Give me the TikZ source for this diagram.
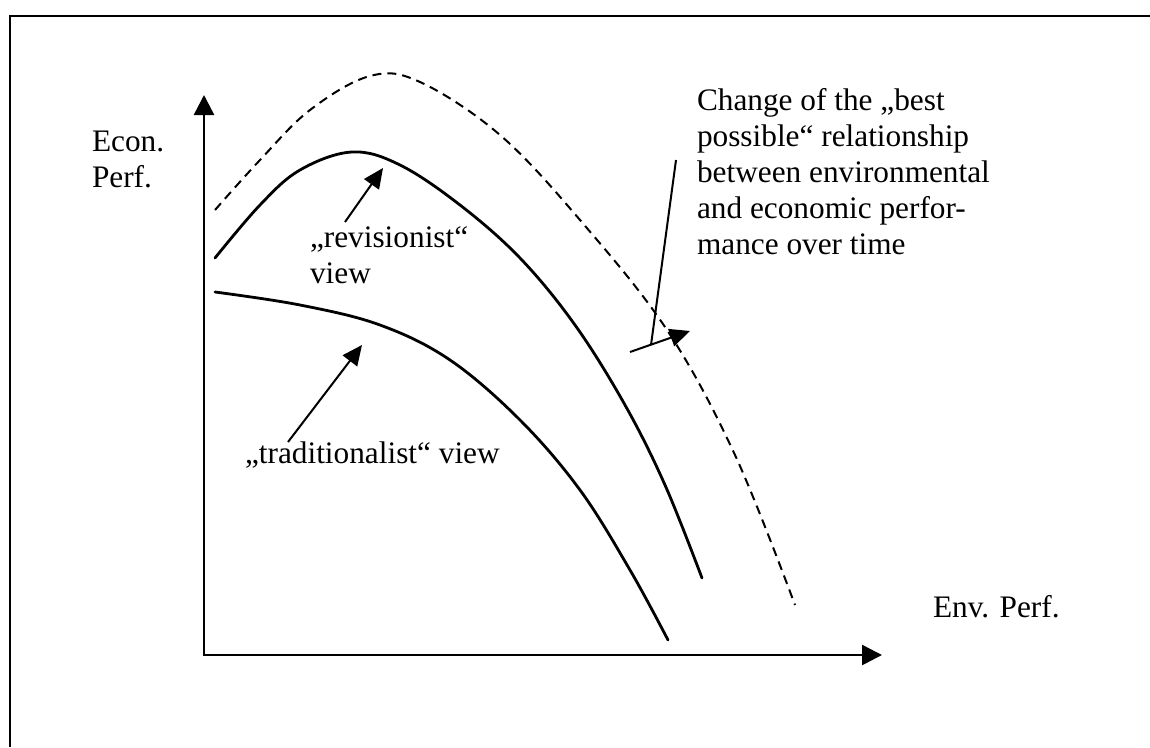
\documentclass[tikz,border=0pt]{standalone}
\usepackage{fontspec}
\setmainfont{Liberation Serif}
\usetikzlibrary{arrows.meta}
\begin{document}
\begin{tikzpicture}[x=1pt,y=-1pt,
  every node/.style={font=\fontsize{31.3}{36}\selectfont, inner sep=0pt, outer sep=0pt},
  frameline/.style={line width=2pt},
  axis/.style={line width=2.5pt, {Triangle[length=20pt,width=20pt]}-{Triangle[length=20pt,width=20pt]}},
  curve/.style={line width=2.8pt, line cap=round},
  dashcurve/.style={line width=2pt, dash pattern=on 9pt off 6pt},
  pointer/.style={line width=2pt, -{Triangle[length=20pt,width=18pt]}},
  thinline/.style={line width=2pt}]
\useasboundingbox (0,0) rectangle (1150,747);
\draw[frameline] (10,747) -- (10,16) -- (1150,16);

% axes
\coordinate (O) at (204,655);
\coordinate (Ytip) at (204,95);
\coordinate (Xtip) at (882,655);
\draw[axis] (Ytip) -- (O) -- (Xtip);

% curves
\draw[dashcurve] plot[smooth, tension=0.6] coordinates {(215,210) (260,160) (310,110) (370,76) (420,82) (500,135) (580,220) (667,330) (735,455) (795,605)};
\draw[curve] plot[smooth, tension=0.6] coordinates {(215,258) (260,205) (300,170) (352,152) (400,165) (460,205) (520,258) (575,325) (625,405) (665,485) (702,578)};
\draw[curve] plot[smooth, tension=0.6] coordinates {(215,292) (300,305) (380,325) (450,360) (520,420) (580,490) (630,570) (668,640)};

% labels (anchor = baseline of last line)
\node[anchor=base west, align=left] (econ) at (92,187) {Econ.\\Perf.};
\node[anchor=base west, align=left] (rev) at (310,283) {„revisionist“\\view};
\node[anchor=base west] (trad) at (245,463) {„traditionalist“ view};
\node[anchor=base west] (env) at (933,617) {Env. Perf.};
\node[anchor=base west, align=left] (change) at (697,254) {Change of the „best\\possible“ relationship\\between environmental\\and economic perfor-\\mance over time};

% pointers
\coordinate (revtail) at (345,222);
\coordinate (revtip) at (383,168);
\draw[pointer] (revtail) -- (revtip);
\coordinate (tradtail) at (288,442);
\coordinate (tradtip) at (362,345);
\draw[pointer] (tradtail) -- (tradtip);
\coordinate (calltop) at (676,160);
\coordinate (callbot) at (651,345);
\draw[thinline] (calltop) -- (callbot);
\coordinate (shifttail) at (630,352);
\coordinate (shifttip) at (690,331);
\draw[pointer] (shifttail) -- (shifttip);
\end{tikzpicture}
\end{document}
